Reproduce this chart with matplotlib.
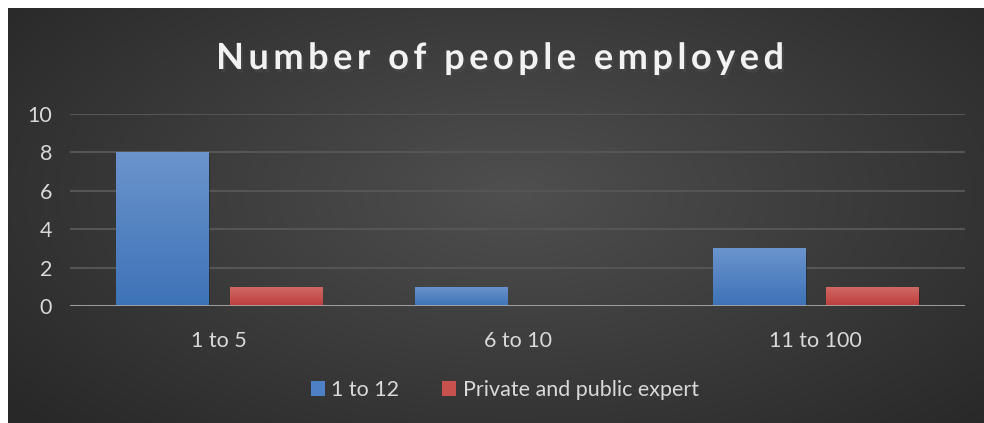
import numpy as np
import matplotlib
matplotlib.use("Agg")
import matplotlib.pyplot as plt
import matplotlib.patheffects as pe
from matplotlib.patches import Patch

categories = ["1 to 5", "6 to 10", "11 to 100"]
small_firms = [8, 1, 3]
experts = [1, 0, 1]
series_names = ["1 to 12", "Private and public expert"]
yticks = [0, 2, 4, 6, 8, 10]
title = "Number of people employed"

plt.rcParams["font.family"] = ["Lato", "DejaVu Sans"]

fig = plt.figure(figsize=(9.84, 4.23), dpi=100, facecolor="white")

# dark radial background
bg = fig.add_axes([8 / 984, 0, 976 / 984, 415 / 423])
bg.set_axis_off()
yy, xx = np.mgrid[0:1:300j, 0:1:700j]
r = np.sqrt(((xx - 0.52) / 0.75) ** 2 + ((yy - 0.55) / 0.9) ** 2)
shade = np.clip(0.31 - 0.17 * r, 0.16, 0.31)
bg.imshow(np.dstack([shade] * 3), aspect="auto", extent=[0, 1, 0, 1], origin="lower")
bg.set_xlim(0, 1)
bg.set_ylim(0, 1)

ax = fig.add_axes([70 / 984, 1 - 306 / 423, 895 / 984, 192 / 423])
ax.set_facecolor("none")
x = np.arange(len(categories))
w = 0.31

def grad_bars(xs, vals, top, bottom):
    bars = ax.bar(xs, vals, w, color=bottom, zorder=3,
                  path_effects=[pe.SimplePatchShadow(offset=(1, -3), alpha=0.45), pe.Normal()])
    for b in bars:
        if b.get_height() <= 0:
            continue
        g = np.linspace(0, 1, 100)[:, None]
        col = np.array(bottom)[None, :] * (1 - g) + np.array(top)[None, :] * g
        im = ax.imshow(col[:, None, :], aspect="auto", origin="lower",
                       extent=[b.get_x(), b.get_x() + b.get_width(), 0, b.get_height()],
                       zorder=4)
        im.set_clip_path(b)
    return bars

grad_bars(x - 0.19, small_firms, (0.42, 0.58, 0.80), (0.24, 0.45, 0.72))
grad_bars(x + 0.19, experts, (0.82, 0.42, 0.40), (0.74, 0.24, 0.23))

ax.set_xlim(-0.5, 2.5)
ax.set_ylim(0, 10)
ax.set_yticks(yticks)
ax.set_xticks(x)
ax.set_xticklabels(categories)
ax.grid(axis="y", color="#555555", linewidth=1.5, zorder=1)
ax.axhline(0, color="#a6a6a6", linewidth=2, zorder=5)
for s in ax.spines.values():
    s.set_visible(False)
ax.tick_params(axis="both", length=0, colors="#d9d9d9", labelsize=15.5)
ax.tick_params(axis="y", pad=13)
ax.tick_params(axis="x", pad=18)

# spaced-out title like the original
spaced = "\u2009".join(title)
fig.text(0.508, 1 - 69 / 423, spaced, ha="center", va="baseline",
         color="#f2f2f2", fontsize=26, fontweight="bold",
         path_effects=[pe.withSimplePatchShadow(offset=(1.5, -2.5), alpha=0.6)])

handles = [Patch(facecolor=(0.30, 0.50, 0.77)), Patch(facecolor=(0.78, 0.32, 0.30))]
leg = fig.legend(handles, series_names, loc="center", bbox_to_anchor=(0.513, 1 - 390 / 423),
                 ncol=2, frameon=False, fontsize=15.5, handlelength=0.65, handleheight=0.65,
                 handletextpad=0.3, columnspacing=2.0, labelcolor="#d9d9d9")

fig.savefig("out.png", dpi=100, facecolor="white")
